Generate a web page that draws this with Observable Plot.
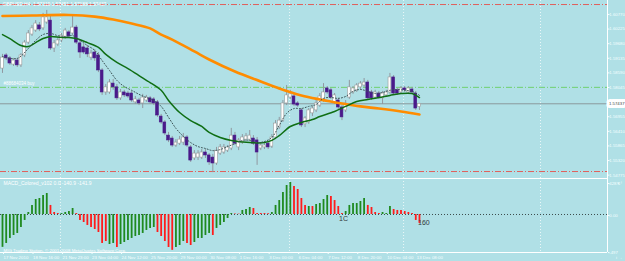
<!DOCTYPE html>
<html><head><meta charset="utf-8">
<script src="https://cdn.jsdelivr.net/npm/d3@7"></script>
<script src="https://cdn.jsdelivr.net/npm/@observablehq/plot@0.6"></script>
<style>
html,body{margin:0;padding:0;background:#b0e0e6;}
#chart{position:relative;width:625px;height:261px;background:#b0e0e6;overflow:hidden;}
#chart svg{position:absolute;left:0;}
</style></head><body><div id="chart"></div>
<script>
// ---- data (GBPUSD H4, bar index 0 = 17 Nov 2010) ----
const opens = [1.5875,1.5924,1.5913,1.5890,1.5905,1.5887,1.5924,1.5972,1.6002,1.6017,
1.6036,1.6025,1.6047,1.6054,1.5950,1.5965,1.5980,1.5991,1.6010,1.6006,
1.6028,1.5969,1.5954,1.5950,1.5916,1.5935,1.5924,1.5868,1.5786,1.5786,
1.5819,1.5805,1.5764,1.5786,1.5782,1.5782,1.5749,1.5756,1.5745,1.5756,
1.5764,1.5760,1.5749,1.5696,1.5674,1.5625,1.5614,1.5588,1.5595,1.5599,
1.5618,1.5581,1.5540,1.5543,1.5543,1.5562,1.5551,1.5543,1.5521,1.5558,
1.5562,1.5569,1.5577,1.5625,1.5581,1.5599,1.5610,1.5610,1.5614,1.5607,
1.5577,1.5581,1.5595,1.5584,1.5618,1.5655,1.5681,1.5745,1.5767,1.5771,
1.5745,1.5719,1.5667,1.5674,1.5708,1.5719,1.5737,1.5756,1.5801,1.5794,
1.5749,1.5756,1.5730,1.5719,1.5767,1.5786,1.5794,1.5805,1.5812,1.5823,
1.5786,1.5767,1.5782,1.5764,1.5775,1.5786,1.5842,1.5794,1.5786,1.5801,
1.5786,1.5797,1.5782,1.57319];
const highs = [1.5928,1.5931,1.5920,1.5913,1.5913,1.5931,1.5980,1.6017,1.6036,1.6054,
1.6047,1.6081,1.6092,1.6073,1.5980,1.5991,1.6006,1.6025,1.6017,1.6073,
1.6036,1.5980,1.5965,1.5961,1.5943,1.5946,1.5935,1.5875,1.5816,1.5834,
1.5834,1.5816,1.5797,1.5794,1.5790,1.5790,1.5771,1.5764,1.5779,1.5775,
1.5771,1.5767,1.5756,1.5704,1.5681,1.5637,1.5622,1.5610,1.5622,1.5633,
1.5625,1.5588,1.5569,1.5569,1.5573,1.5573,1.5558,1.5555,1.5581,1.5592,
1.5592,1.5588,1.5652,1.5637,1.5614,1.5629,1.5633,1.5644,1.5625,1.5618,
1.5599,1.5595,1.5603,1.5629,1.5681,1.5693,1.5756,1.5812,1.5794,1.5779,
1.5752,1.5726,1.5696,1.5726,1.5734,1.5756,1.5782,1.5819,1.5808,1.5801,
1.5782,1.5764,1.5737,1.5756,1.5831,1.5808,1.5819,1.5827,1.5838,1.5831,
1.5794,1.5794,1.5790,1.5790,1.5794,1.5857,1.5849,1.5801,1.5808,1.5808,
1.5808,1.5805,1.5790,1.57451];
const lows = [1.5857,1.5905,1.5887,1.5883,1.5879,1.5879,1.5916,1.5965,1.5995,1.6010,
1.6013,1.6017,1.6040,1.5943,1.5935,1.5957,1.5972,1.5984,1.5987,1.5998,
1.5965,1.5913,1.5928,1.5916,1.5905,1.5902,1.5860,1.5775,1.5775,1.5779,
1.5794,1.5756,1.5756,1.5767,1.5764,1.5749,1.5741,1.5737,1.5726,1.5749,
1.5741,1.5737,1.5693,1.5667,1.5625,1.5599,1.5581,1.5581,1.5588,1.5588,
1.5581,1.5525,1.5532,1.5532,1.5536,1.5540,1.5514,1.5487,1.5514,1.5551,
1.5555,1.5562,1.5569,1.5588,1.5569,1.5592,1.5603,1.5603,1.5588,1.5514,
1.5569,1.5573,1.5573,1.5577,1.5610,1.5648,1.5674,1.5737,1.5760,1.5734,
1.5730,1.5655,1.5655,1.5667,1.5696,1.5711,1.5730,1.5749,1.5779,1.5760,
1.5741,1.5722,1.5681,1.5711,1.5760,1.5779,1.5786,1.5797,1.5805,1.5756,
1.5756,1.5760,1.5760,1.5741,1.5767,1.5779,1.5775,1.5775,1.5779,1.5786,
1.5779,1.5779,1.5719,1.57188];
const closes = [1.5916,1.5913,1.5894,1.5905,1.5887,1.5924,1.5972,1.6006,1.6025,1.6043,
1.6021,1.6066,1.6066,1.5950,1.5969,1.5980,1.5998,1.6017,1.5995,1.6028,
1.5972,1.5935,1.5935,1.5928,1.5931,1.5913,1.5868,1.5786,1.5805,1.5823,
1.5805,1.5764,1.5786,1.5775,1.5771,1.5756,1.5760,1.5745,1.5767,1.5767,
1.5749,1.5745,1.5700,1.5674,1.5633,1.5607,1.5588,1.5599,1.5610,1.5618,
1.5588,1.5532,1.5558,1.5558,1.5562,1.5551,1.5525,1.5521,1.5569,1.5581,
1.5581,1.5581,1.5625,1.5595,1.5607,1.5618,1.5622,1.5625,1.5595,1.5562,
1.5588,1.5588,1.5581,1.5618,1.5670,1.5681,1.5745,1.5775,1.5779,1.5741,
1.5737,1.5663,1.5689,1.5719,1.5726,1.5745,1.5771,1.5786,1.5786,1.5767,
1.5775,1.5730,1.5693,1.5745,1.5805,1.5801,1.5812,1.5819,1.5823,1.5764,
1.5764,1.5786,1.5767,1.5782,1.5786,1.5842,1.5782,1.5782,1.5801,1.5794,
1.5801,1.5786,1.5726,1.57437];

// moving averages read at selected bars
const orangeBars = [0,8,18,25,30,35,40,43,46,52,56,63,70,75,81,86,92,97,102,108,113];
const orangeVals = [1.6071,1.6073,1.6075,1.6069,1.6058,1.6043,1.6025,1.6002,1.5983,1.5939,1.5909,1.5864,1.5827,1.5801,1.5775,1.5760,1.5745,1.5734,1.5726,1.5715,1.5704];
const greenBars = [0,2,5,7,9,11,13,16,18,20,23,26,28,31,34,37,39,40,43,45,48,51,54,56,59,62,67,71,73,75,78,81,84,86,90,93,96,99,102,105,108,111,113];
const greenVals = [1.6002,1.5987,1.5961,1.5957,1.5972,1.5987,1.5995,1.5991,1.5991,1.5987,1.5972,1.5954,1.5928,1.5898,1.5875,1.5849,1.5831,1.5823,1.5794,1.5756,1.5711,1.5681,1.5659,1.5637,1.5618,1.5607,1.5599,1.5599,1.5607,1.5625,1.5659,1.5674,1.5685,1.5696,1.5715,1.5734,1.5752,1.5760,1.5767,1.5775,1.5782,1.5782,1.5767];
const dottedBars = [0,4,7,9,11,13,15,17,19,21,23,25,27,29,31,33,35,37,39,41,43,45,47,49,51,53,55,57,59,61,63,65,67,69,71,73,75,77,79,81,83,85,87,89,91,93,95,97,99,101,103,105,107,109,111,113];
const dottedVals = [1.5920,1.5913,1.5950,1.5980,1.6002,1.6006,1.5998,1.5995,1.5998,1.5980,1.5961,1.5943,1.5905,1.5868,1.5831,1.5808,1.5794,1.5779,1.5767,1.5756,1.5734,1.5693,1.5652,1.5622,1.5599,1.5584,1.5577,1.5569,1.5573,1.5584,1.5595,1.5607,1.5607,1.5599,1.5603,1.5618,1.5663,1.5708,1.5726,1.5726,1.5734,1.5741,1.5764,1.5767,1.5764,1.5771,1.5790,1.5797,1.5790,1.5782,1.5786,1.5794,1.5797,1.5794,1.5790,1.5775];

// MACD histogram (value per bar) and colour per bar (g = rising, r = falling)
const macdVals = [-440,-388,-321,-281,-254,-174,-80,27,121,201,
214,254,281,121,27,13,13,27,40,80,
13,-80,-107,-147,-174,-201,-241,-388,-362,-402,
-388,-442,-402,-375,-348,-321,-295,-281,-254,-214,
-187,-174,-241,-295,-362,-442,-480,-442,-415,-362,
-388,-415,-375,-321,-321,-281,-254,-281,-187,-147,
-107,-54,13,5,5,54,67,94,80,13,
13,13,10,27,121,187,295,388,428.6,375,
335,214,121,107,107,134,147,201,254,241,
187,107,13,40,121,147,147,174,214,121,
94,27,13,27,13,107,67,54,54,40,
27,13,-80,-121];
const macdColors = ("ggggggggggggg" + "rrr" + "gggg" + "rrrrrrrrr" + "gg" + "r" + "gggggggggg" +
  "rrrrr" + "ggg" + "rr" + "ggggg" + "r" + "ggggg" + "rr" + "ggg" + "rrrrr" + "gggggg" + "rrrr" +
  "g" + "r" + "gggg" + "rrrr" + "gggggg" + "rrrr" + "ggg" + "rrrrrrrr").split("");

// levels and labels
const lastClose = 1.57437;
const redLevels = [1.6114, 1.5491];
const orderLevel = 1.5805;
const orderLabel = "#88684034 buy";
const title = "GBPUSD,H4  1.57319 1.57451 1.57188 1.57437";
const priceTicks = [1.60770,1.60225,1.59680,1.59135,1.58590,1.58045,1.56955,1.56410,1.55865,1.55320,1.54775];
const macdTicks = [428.6, 0, -497];
const macdTickText = ["428.6","0.00","-497"];
const macdTitle = "MACD_Colored_v102 0.0 -140.9 -141.9";
const footer = "MIG Trading Station, \u00a9 2001-2008 MetaQuotes Software Corp.";
const timeBars = [0,8,16,24,32,40,48,56,64,72,80,88,96,104,112];
const timeLabels = ["17 Nov 2010","18 Nov 16:00","21 Nov 23:00","23 Nov 04:00","24 Nov 12:00","25 Nov 20:00","29 Nov 00:00","30 Nov 08:00","1 Dec 16:00","3 Dec 00:00","6 Dec 04:00","7 Dec 12:00","8 Dec 20:00","10 Dec 04:00","13 Dec 08:00"];
const gridBars = [15.7, 77.8, 108.7, 145.8];
const crossNotes = [{i:91.2, v:-54, t:"1C"}, {i:112.6, v:-107, t:"160"}];

// ---- build ----
const xDomain = [-0.54, 163.96];
const macdDomain = [-509, 482];
const font = "Liberation Sans, Arial, sans-serif";
const bars = opens.map((o,i)=>({i, o, h:highs[i], l:lows[i], c:closes[i], up: closes[i] >= o}));
const toPts = (b,v)=>b.map((i,k)=>({i, v:v[k]}));
const macd = macdVals.map((v,i)=>({i, v, col: macdColors[i]==="r" ? "#ff1c1c" : "#1f8a1f"}));

const dashdot = "6,2,1,2";
const main = Plot.plot({
  width:625, height:178, marginLeft:0, marginRight:18, marginTop:0, marginBottom:0,
  style:{background:"transparent", fontFamily:font, fontSize:"5px", color:"#ffffff"},
  x:{domain:xDomain, axis:null},
  y:{domain:[1.5465, 1.6129], axis:null},
  marks:[
    Plot.ruleX(gridBars, {stroke:"#ffffff", strokeOpacity:0.75, strokeDasharray:"1,2"}),
    Plot.ruleY(redLevels, {stroke:"#e0605c", strokeDasharray:dashdot}),
    Plot.ruleY([orderLevel], {stroke:"#6fd06f", strokeDasharray:dashdot}),
    Plot.ruleY([lastClose], {stroke:"#8a9a9c"}),
    Plot.ruleX(bars, {x:"i", y1:"l", y2:"h", stroke:"#9098a0"}),
    Plot.rect(bars, {x1:d=>d.i-0.38, x2:d=>d.i+0.38, y1:"o", y2:"c",
      fill:d=>d.up?"#ffffff":"#4a1a8a", stroke:d=>d.up?"#9a9a9a":"#4a1a8a", strokeWidth:0.6}),
    Plot.line(toPts(orangeBars, orangeVals), {x:"i", y:"v", stroke:"#ff8c00", strokeWidth:2.6, curve:"catmull-rom"}),
    Plot.line(toPts(greenBars, greenVals), {x:"i", y:"v", stroke:"#0f6e14", strokeWidth:1.5, curve:"catmull-rom"}),
    Plot.line(toPts(dottedBars, dottedVals), {x:"i", y:"v", stroke:"#3c5456", strokeWidth:1, strokeDasharray:"1,2", curve:"catmull-rom"}),
    Plot.ruleX([xDomain[1]], {stroke:"#ffffff"}),
    Plot.axisY({anchor:"right", ticks:priceTicks, tickFormat:d=>d.toFixed(5), tickSize:1.5, tickPadding:0.3, color:"#f4ffff", fontSize:4.3}),
    Plot.text([lastClose], {y:d=>d, frameAnchor:"right", dx:1.5, textAnchor:"start", text:d=>d.toFixed(5),
      fill:"#404848", stroke:"#ffffff", strokeWidth:6, fontSize:4.3}),
    Plot.text([title], {frameAnchor:"top-left", dx:2, dy:2, lineAnchor:"top", textAnchor:"start", fill:"#ffffff", fontSize:4.8}),
    Plot.text([{v:orderLevel, t:orderLabel}], {y:"v", text:"t", frameAnchor:"left", dx:3, dy:-4, textAnchor:"start", fill:"#ffffff", fontSize:4.5})
  ]
});
main.style.top = "0px";

const sub = Plot.plot({
  width:625, height:84, marginLeft:0, marginRight:18, marginTop:1, marginBottom:9,
  style:{background:"transparent", fontFamily:font, fontSize:"5px", color:"#ffffff"},
  x:{domain:xDomain, axis:null},
  y:{domain:macdDomain, axis:null},
  marks:[
    Plot.ruleX(gridBars, {stroke:"#ffffff", strokeOpacity:0.75, strokeDasharray:"1,2"}),
    Plot.ruleY([0], {stroke:"#3c4c4c", strokeDasharray:"1,2"}),
    Plot.ruleX(macd, {x:"i", y1:0, y2:"v", stroke:"col", strokeWidth:1.8}),
    Plot.ruleY(macdDomain, {stroke:"#ffffff"}),
    Plot.ruleX([xDomain[1]], {stroke:"#ffffff"}),
    Plot.axisY({anchor:"right", ticks:macdTicks, tickFormat:d=>macdTickText[macdTicks.indexOf(d)], tickSize:1.5, tickPadding:0.3, dy:1, color:"#f4ffff", fontSize:4.3}),
    Plot.axisX({anchor:"bottom", ticks:timeBars, tickFormat:d=>timeLabels[timeBars.indexOf(d)], tickSize:2, tickPadding:1, textAnchor:"start", dx:1, color:"#f4ffff", fontSize:4.4}),
    Plot.text([macdTitle], {frameAnchor:"top-left", dx:3, dy:3, lineAnchor:"top", textAnchor:"start", fill:"#ffffff", fontSize:5}),
    Plot.text([footer], {frameAnchor:"bottom-left", dx:3, dy:-1, lineAnchor:"bottom", textAnchor:"start", fill:"#ffffff", fontSize:4.4}),
    Plot.text(crossNotes, {x:"i", y:"v", text:"t", textAnchor:"start", fill:"#333a3a", fontSize:7})
  ]
});
sub.style.top = "177px";

const chart = document.getElementById("chart");
chart.appendChild(main);
chart.appendChild(sub);
</script>
</body></html>
